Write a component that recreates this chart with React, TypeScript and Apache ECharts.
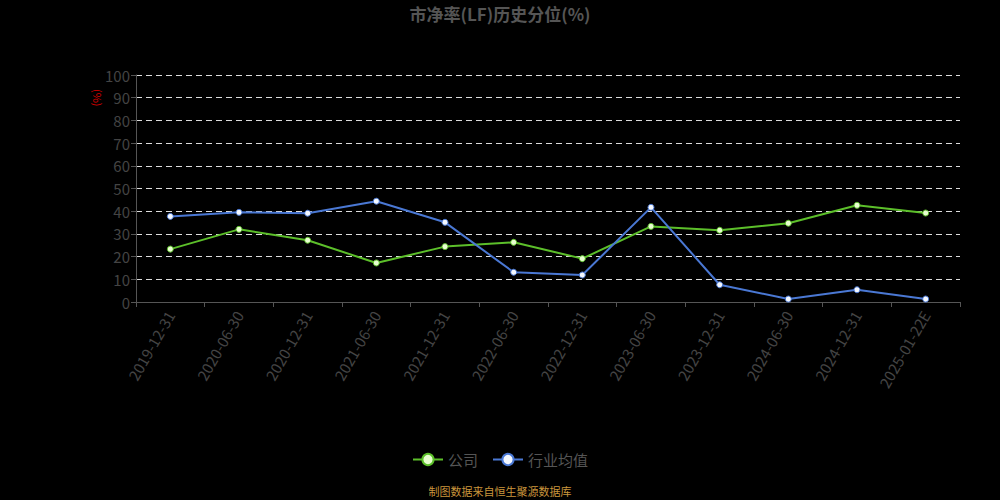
import React, { useEffect, useRef } from 'react';
import * as echarts from 'echarts';

const categories = [
  '2019-12-31', '2020-06-30', '2020-12-31', '2021-06-30', '2021-12-31', '2022-06-30',
  '2022-12-31', '2023-06-30', '2023-12-31', '2024-06-30', '2024-12-31', '2025-01-22E',
];
const companyValues = [23.3, 32.0, 27.2, 17.2, 24.4, 26.3, 19.1, 33.3, 31.6, 34.7, 42.6, 39.2];
const industryValues = [37.7, 39.5, 39.1, 44.4, 35.1, 13.1, 11.9, 41.7, 7.6, 1.3, 5.4, 1.3];
const seriesNames = ['公司', '行业均值'];

const FONT = '"Noto Sans CJK SC", "Noto Sans", sans-serif';

const App: React.FC = () => {
  const chartRef = useRef<HTMLDivElement>(null);

  useEffect(() => {
    document.body.style.margin = '0';
    document.body.style.background = '#000';
    if (!chartRef.current) return;
    const chart = echarts.init(chartRef.current, undefined, { renderer: 'svg' });
    chart.setOption({
      animation: false,
      backgroundColor: '#000',
      textStyle: { fontFamily: FONT },
      title: {
        text: '市净率(LF)历史分位(%)',
        left: 'center',
        top: 0,
        textStyle: { color: '#555', fontSize: 17, fontWeight: 'bold', fontFamily: FONT },
      },
      legend: {
        data: seriesNames,
        bottom: 28,
        left: 'center',
        itemWidth: 30,
        itemHeight: 14,
        itemGap: 14,
        textStyle: { color: '#555', fontSize: 15, fontFamily: FONT },
      },
      grid: { left: 136, right: 40, top: 75, bottom: 198 },
      xAxis: {
        type: 'category',
        data: categories,
        boundaryGap: true,
        axisLine: { lineStyle: { color: '#555' } },
        axisTick: { show: true, lineStyle: { color: '#555' } },
        axisLabel: { color: '#444', fontSize: 15, rotate: 60, margin: 10, interval: 0 },
      },
      yAxis: {
        type: 'value',
        min: 0,
        max: 100,
        interval: 10,
        axisLine: { show: true, lineStyle: { color: '#555' } },
        axisTick: { show: true, lineStyle: { color: '#555' } },
        axisLabel: { color: '#444', fontSize: 15, margin: 6 },
        splitLine: { lineStyle: { color: '#ddd', type: [6, 4] } },
      },
      graphic: [
        {
          type: 'text',
          x: 103,
          y: 89,
          rotation: -Math.PI / 2,
          style: { text: '(%)', fill: '#d00', fontSize: 11, fontFamily: FONT },
        },
        {
          type: 'text',
          left: 'center',
          top: 485,
          style: { text: '制图数据来自恒生聚源数据库', fill: '#c9953c', fontSize: 11, fontFamily: FONT },
        },
      ],
      series: [
        {
          name: seriesNames[0],
          type: 'line',
          data: companyValues,
          symbol: 'circle',
          symbolSize: 6,
          lineStyle: { color: '#5cbf2a', width: 2 },
          itemStyle: { color: '#e8ffd0', borderColor: '#5cbf2a', borderWidth: 1 },
        },
        {
          name: seriesNames[1],
          type: 'line',
          data: industryValues,
          symbol: 'circle',
          symbolSize: 6,
          lineStyle: { color: '#4a78d4', width: 2 },
          itemStyle: { color: '#f4f8ff', borderColor: '#4a78d4', borderWidth: 1 },
        },
      ],
    });
    return () => chart.dispose();
  }, []);

  return <div ref={chartRef} style={{ width: 1000, height: 500 }} />;
};

export default App;
